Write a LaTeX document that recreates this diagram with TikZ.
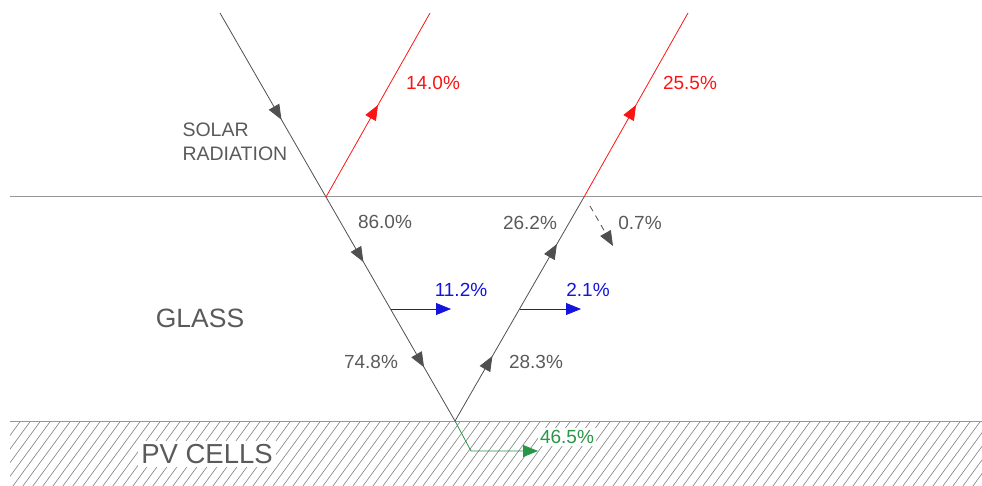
\documentclass[tikz,border=0pt]{standalone}
\usepackage{fontspec}
\setmainfont{Liberation Sans}
\usetikzlibrary{arrows.meta,decorations.markings}
\definecolor{txtgray}{RGB}{90,90,90}
\definecolor{raygray}{RGB}{80,80,80}
\definecolor{linegray}{RGB}{150,150,150}
\definecolor{rayred}{RGB}{250,20,20}
\definecolor{rayblue}{RGB}{20,20,220}
\definecolor{raygreen}{RGB}{40,150,70}
\tikzset{
  tip/.tip={Triangle[length=15pt,width=12pt]},
  ray/.style={line width=0.8pt},
  midarrow/.style={postaction={decorate},decoration={markings,mark=at position #1 with {\arrow{tip}}}},
  pct/.style={font=\fontsize{19}{21}\selectfont,inner sep=1pt},
  big/.style={font=\fontsize{26.5}{30}\selectfont,text=txtgray}
}
\begin{document}
\begin{tikzpicture}[x=1pt,y=-1pt]
\useasboundingbox (0,0) rectangle (982,486);
% hatched PV layer
\begin{scope}
\clip (10,421) rectangle (982,486);
\foreach \i in {-10,...,110} {
  \draw[linegray!85!black,line width=0.6pt] (\i*10,490) -- ++(55,-75);
}
\end{scope}
\draw[linegray,line width=1pt] (10,421) -- (982,421);
\draw[linegray,line width=1pt] (10,197) -- (982,197);
% coordinates
\coordinate (S0) at (220,13);
\coordinate (P1) at (326,197);
\coordinate (B) at (455,421);
\coordinate (P2) at (584,197);
\coordinate (R1) at (430,13);
\coordinate (R2) at (688,13);
\coordinate (BL1) at (390.5,309);
\coordinate (BL1e) at (451,309);
\coordinate (BL2) at (519.5,309);
\coordinate (BL2e) at (581,309);
\coordinate (G1) at (471,451);
\coordinate (G2) at (538,451);
\coordinate (D1) at (590,206);
\coordinate (D2) at (613,246);
% rays
\draw[ray,raygray,midarrow=0.58] (S0) -- (P1);
\draw[ray,raygray,postaction={decorate},decoration={markings,
  mark=at position 0.29 with {\arrow{tip}},
  mark=at position 0.76 with {\arrow{tip}}}] (P1) -- (B);
\draw[ray,raygray,postaction={decorate},decoration={markings,
  mark=at position 0.29 with {\arrow{tip}},
  mark=at position 0.79 with {\arrow{tip}}}] (B) -- (P2);
\draw[ray,rayred,midarrow=0.5] (P1) -- (R1);
\draw[ray,rayred,midarrow=0.5] (P2) -- (R2);
\draw[ray,rayblue,-{tip}] (BL1) -- (BL1e);
\draw[ray,rayblue,-{tip}] (BL2) -- (BL2e);
\draw[ray,raygreen,-{tip}] (B) -- (G1) -- (G2);
\draw[ray,raygray,dash pattern=on 6pt off 5pt,-{tip}] (D1) -- (D2);
% labels
\node[pct,text=rayred] (l140) at (433,83) {14.0\%};
\node[pct,text=rayred] (l255) at (690,83) {25.5\%};
\node[font=\fontsize{19.5}{24}\selectfont,text=txtgray,align=left,anchor=west] (sol) at (179,142) {SOLAR\\RADIATION};
\node[pct,text=txtgray] (l860) at (385,222) {86.0\%};
\node[pct,text=txtgray] (l262) at (530,223) {26.2\%};
\node[pct,text=txtgray] (l07) at (640,223) {0.7\%};
\node[pct,text=rayblue] (l112) at (461,290) {11.2\%};
\node[pct,text=rayblue] (l21) at (588,290) {2.1\%};
\node[pct,text=txtgray] (l748) at (371,362) {74.8\%};
\node[pct,text=txtgray] (l283) at (536,362) {28.3\%};
\node[pct,text=raygreen,fill=white,inner sep=2pt] (l465) at (567,437) {46.5\%};
\node[big] (glass) at (200,318) {GLASS};
\node[big,fill=white,inner sep=3pt,font=\fontsize{27.5}{30}\selectfont] (pv) at (207,454) {PV CELLS};
\end{tikzpicture}
\end{document}
